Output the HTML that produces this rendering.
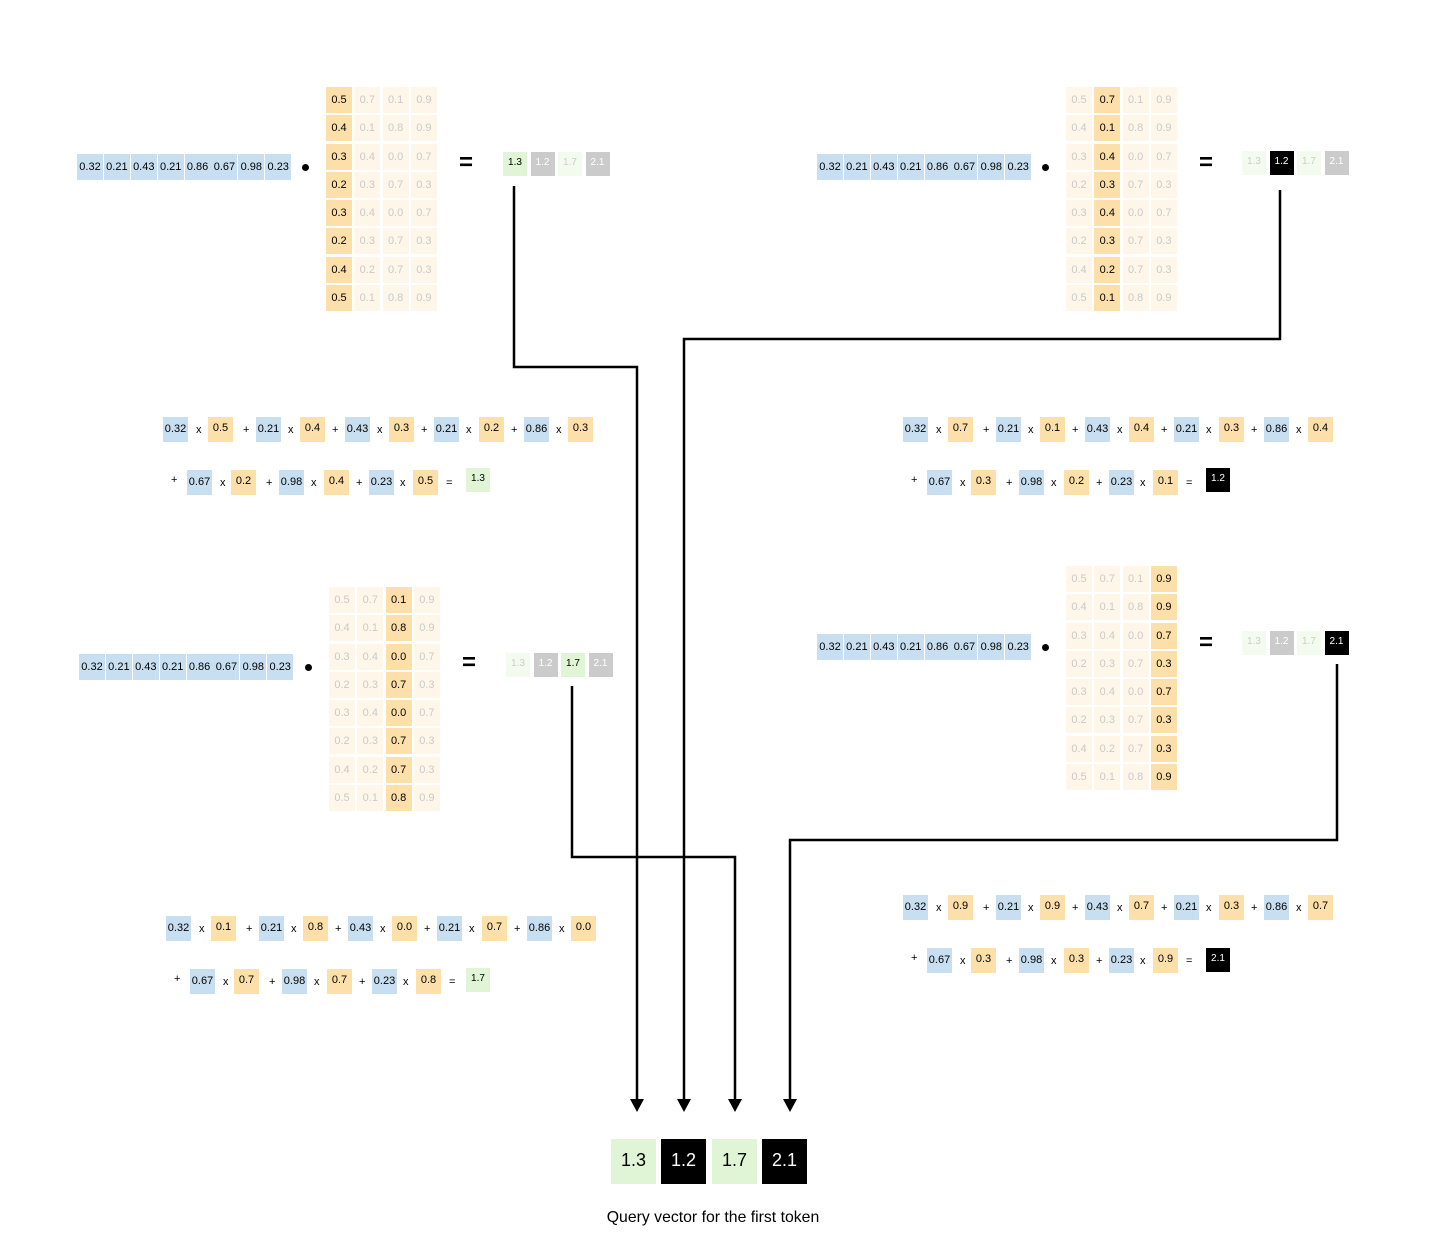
<!DOCTYPE html>
<html><head><meta charset="utf-8"><style>
body{margin:0;width:1456px;height:1253px;background:#fff;position:relative;overflow:hidden;font-family:"Liberation Sans",Arial,sans-serif;color:#000}
.a{position:absolute}
.v{position:absolute;display:grid;grid-template-columns:repeat(8,26px);column-gap:0.9px}
.v div{height:26px;line-height:26px;background:#c7dff0;text-align:center;font-size:11px}
.m{position:absolute;display:grid;grid-template-columns:repeat(4,26px);gap:2.3px}
.m div{height:26px;line-height:26px;background:#fef7e9;text-align:center;font-size:11px;color:#c9c9c9}
.m div.h{background:#fde0a9;color:#000}
.r{position:absolute;display:grid;grid-template-columns:repeat(4,24px);gap:3.5px}
.r div{height:24px;line-height:22px;text-align:center;font-size:10px}
.g{background:#dff5d5;color:#000}.fg{background:#f3fbef;color:#ccc}.gr{background:#cbcbcb;color:#fff}.bk{background:#000;color:#fff}
.dot{position:absolute;width:7px;height:7px;border-radius:50%;background:#000}
.eq{position:absolute;font-size:24px;font-weight:bold;line-height:24px}
.e{position:absolute;width:470px;height:90px}
.e div{position:absolute;font-size:11px}
.e .b,.e .o,.e .res{width:25px;height:25px;line-height:24px;text-align:center}
.e .b{background:#c7dff0}.e .o{background:#fde0a9;line-height:22px}
.e .s{top:0;line-height:27px}
.e .res{width:24px;height:24px;line-height:21px;font-size:10px}
</style></head><body>

<!-- Block A -->
<div class="v" style="left:77px;top:154px"><div>0.32</div><div>0.21</div><div>0.43</div><div>0.21</div><div>0.86</div><div>0.67</div><div>0.98</div><div>0.23</div></div>
<div class="dot" style="left:302px;top:164px"></div>
<div class="m" style="left:326px;top:87px">
<div class="h">0.5</div><div>0.7</div><div>0.1</div><div>0.9</div>
<div class="h">0.4</div><div>0.1</div><div>0.8</div><div>0.9</div>
<div class="h">0.3</div><div>0.4</div><div>0.0</div><div>0.7</div>
<div class="h">0.2</div><div>0.3</div><div>0.7</div><div>0.3</div>
<div class="h">0.3</div><div>0.4</div><div>0.0</div><div>0.7</div>
<div class="h">0.2</div><div>0.3</div><div>0.7</div><div>0.3</div>
<div class="h">0.4</div><div>0.2</div><div>0.7</div><div>0.3</div>
<div class="h">0.5</div><div>0.1</div><div>0.8</div><div>0.9</div></div>
<div class="eq" style="left:459px;top:151px">=</div>
<div class="r" style="left:503px;top:152px"><div class="g">1.3</div><div class="gr">1.2</div><div class="fg">1.7</div><div class="gr">2.1</div></div>

<!-- Block B -->
<div class="v" style="left:817px;top:154px"><div>0.32</div><div>0.21</div><div>0.43</div><div>0.21</div><div>0.86</div><div>0.67</div><div>0.98</div><div>0.23</div></div>
<div class="dot" style="left:1042px;top:164px"></div>
<div class="m" style="left:1066px;top:87px">
<div>0.5</div><div class="h">0.7</div><div>0.1</div><div>0.9</div>
<div>0.4</div><div class="h">0.1</div><div>0.8</div><div>0.9</div>
<div>0.3</div><div class="h">0.4</div><div>0.0</div><div>0.7</div>
<div>0.2</div><div class="h">0.3</div><div>0.7</div><div>0.3</div>
<div>0.3</div><div class="h">0.4</div><div>0.0</div><div>0.7</div>
<div>0.2</div><div class="h">0.3</div><div>0.7</div><div>0.3</div>
<div>0.4</div><div class="h">0.2</div><div>0.7</div><div>0.3</div>
<div>0.5</div><div class="h">0.1</div><div>0.8</div><div>0.9</div></div>
<div class="eq" style="left:1199px;top:151px">=</div>
<div class="r" style="left:1242px;top:151px"><div class="fg">1.3</div><div class="bk">1.2</div><div class="fg">1.7</div><div class="gr">2.1</div></div>

<!-- Block C -->
<div class="v" style="left:79px;top:654px"><div>0.32</div><div>0.21</div><div>0.43</div><div>0.21</div><div>0.86</div><div>0.67</div><div>0.98</div><div>0.23</div></div>
<div class="dot" style="left:305px;top:664px"></div>
<div class="m" style="left:329px;top:587px">
<div>0.5</div><div>0.7</div><div class="h">0.1</div><div>0.9</div>
<div>0.4</div><div>0.1</div><div class="h">0.8</div><div>0.9</div>
<div>0.3</div><div>0.4</div><div class="h">0.0</div><div>0.7</div>
<div>0.2</div><div>0.3</div><div class="h">0.7</div><div>0.3</div>
<div>0.3</div><div>0.4</div><div class="h">0.0</div><div>0.7</div>
<div>0.2</div><div>0.3</div><div class="h">0.7</div><div>0.3</div>
<div>0.4</div><div>0.2</div><div class="h">0.7</div><div>0.3</div>
<div>0.5</div><div>0.1</div><div class="h">0.8</div><div>0.9</div></div>
<div class="eq" style="left:462px;top:651px">=</div>
<div class="r" style="left:506px;top:653px"><div class="fg">1.3</div><div class="gr">1.2</div><div class="g">1.7</div><div class="gr">2.1</div></div>

<!-- Block D -->
<div class="v" style="left:817px;top:634px"><div>0.32</div><div>0.21</div><div>0.43</div><div>0.21</div><div>0.86</div><div>0.67</div><div>0.98</div><div>0.23</div></div>
<div class="dot" style="left:1042px;top:644px"></div>
<div class="m" style="left:1066px;top:566px">
<div>0.5</div><div>0.7</div><div>0.1</div><div class="h">0.9</div>
<div>0.4</div><div>0.1</div><div>0.8</div><div class="h">0.9</div>
<div>0.3</div><div>0.4</div><div>0.0</div><div class="h">0.7</div>
<div>0.2</div><div>0.3</div><div>0.7</div><div class="h">0.3</div>
<div>0.3</div><div>0.4</div><div>0.0</div><div class="h">0.7</div>
<div>0.2</div><div>0.3</div><div>0.7</div><div class="h">0.3</div>
<div>0.4</div><div>0.2</div><div>0.7</div><div class="h">0.3</div>
<div>0.5</div><div>0.1</div><div>0.8</div><div class="h">0.9</div></div>
<div class="eq" style="left:1199px;top:631px">=</div>
<div class="r" style="left:1242px;top:631px"><div class="fg">1.3</div><div class="gr">1.2</div><div class="fg">1.7</div><div class="bk">2.1</div></div>

<!-- Equation A -->
<div class="e" style="left:163px;top:417px">
<div class="b" style="left:0">0.32</div><div class="s" style="left:33px">x</div><div class="o" style="left:45px">0.5</div>
<div class="s" style="left:80px">+</div><div class="b" style="left:93px">0.21</div><div class="s" style="left:125px">x</div><div class="o" style="left:137px">0.4</div>
<div class="s" style="left:169px">+</div><div class="b" style="left:182px">0.43</div><div class="s" style="left:214px">x</div><div class="o" style="left:226px">0.3</div>
<div class="s" style="left:258px">+</div><div class="b" style="left:271px">0.21</div><div class="s" style="left:303px">x</div><div class="o" style="left:316px">0.2</div>
<div class="s" style="left:348px">+</div><div class="b" style="left:361px">0.86</div><div class="s" style="left:393px">x</div><div class="o" style="left:405px">0.3</div>
<div class="s" style="left:8px;top:50px">+</div><div class="b" style="left:24px;top:53px">0.67</div><div class="s" style="left:57px;top:53px">x</div><div class="o" style="left:68px;top:53px">0.2</div>
<div class="s" style="left:103px;top:53px">+</div><div class="b" style="left:116px;top:53px">0.98</div><div class="s" style="left:148px;top:53px">x</div><div class="o" style="left:161px;top:53px">0.4</div>
<div class="s" style="left:193px;top:53px">+</div><div class="b" style="left:206px;top:53px">0.23</div><div class="s" style="left:237px;top:53px">x</div><div class="o" style="left:250px;top:53px">0.5</div>
<div class="s" style="left:283px;top:53px">=</div><div class="res g" style="left:303px;top:51px">1.3</div>
</div>

<!-- Equation B -->
<div class="e" style="left:903px;top:417px">
<div class="b" style="left:0">0.32</div><div class="s" style="left:33px">x</div><div class="o" style="left:45px">0.7</div>
<div class="s" style="left:80px">+</div><div class="b" style="left:93px">0.21</div><div class="s" style="left:125px">x</div><div class="o" style="left:137px">0.1</div>
<div class="s" style="left:169px">+</div><div class="b" style="left:182px">0.43</div><div class="s" style="left:214px">x</div><div class="o" style="left:226px">0.4</div>
<div class="s" style="left:258px">+</div><div class="b" style="left:271px">0.21</div><div class="s" style="left:303px">x</div><div class="o" style="left:316px">0.3</div>
<div class="s" style="left:348px">+</div><div class="b" style="left:361px">0.86</div><div class="s" style="left:393px">x</div><div class="o" style="left:405px">0.4</div>
<div class="s" style="left:8px;top:50px">+</div><div class="b" style="left:24px;top:53px">0.67</div><div class="s" style="left:57px;top:53px">x</div><div class="o" style="left:68px;top:53px">0.3</div>
<div class="s" style="left:103px;top:53px">+</div><div class="b" style="left:116px;top:53px">0.98</div><div class="s" style="left:148px;top:53px">x</div><div class="o" style="left:161px;top:53px">0.2</div>
<div class="s" style="left:193px;top:53px">+</div><div class="b" style="left:206px;top:53px">0.23</div><div class="s" style="left:237px;top:53px">x</div><div class="o" style="left:250px;top:53px">0.1</div>
<div class="s" style="left:283px;top:53px">=</div><div class="res bk" style="left:303px;top:51px">1.2</div>
</div>

<!-- Equation C -->
<div class="e" style="left:166px;top:916px">
<div class="b" style="left:0">0.32</div><div class="s" style="left:33px">x</div><div class="o" style="left:45px">0.1</div>
<div class="s" style="left:80px">+</div><div class="b" style="left:93px">0.21</div><div class="s" style="left:125px">x</div><div class="o" style="left:137px">0.8</div>
<div class="s" style="left:169px">+</div><div class="b" style="left:182px">0.43</div><div class="s" style="left:214px">x</div><div class="o" style="left:226px">0.0</div>
<div class="s" style="left:258px">+</div><div class="b" style="left:271px">0.21</div><div class="s" style="left:303px">x</div><div class="o" style="left:316px">0.7</div>
<div class="s" style="left:348px">+</div><div class="b" style="left:361px">0.86</div><div class="s" style="left:393px">x</div><div class="o" style="left:405px">0.0</div>
<div class="s" style="left:8px;top:50px">+</div><div class="b" style="left:24px;top:53px">0.67</div><div class="s" style="left:57px;top:53px">x</div><div class="o" style="left:68px;top:53px">0.7</div>
<div class="s" style="left:103px;top:53px">+</div><div class="b" style="left:116px;top:53px">0.98</div><div class="s" style="left:148px;top:53px">x</div><div class="o" style="left:161px;top:53px">0.7</div>
<div class="s" style="left:193px;top:53px">+</div><div class="b" style="left:206px;top:53px">0.23</div><div class="s" style="left:237px;top:53px">x</div><div class="o" style="left:250px;top:53px">0.8</div>
<div class="s" style="left:283px;top:53px">=</div><div class="res g" style="left:300px;top:52px">1.7</div>
</div>

<!-- Equation D -->
<div class="e" style="left:903px;top:895px">
<div class="b" style="left:0">0.32</div><div class="s" style="left:33px">x</div><div class="o" style="left:45px">0.9</div>
<div class="s" style="left:80px">+</div><div class="b" style="left:93px">0.21</div><div class="s" style="left:125px">x</div><div class="o" style="left:137px">0.9</div>
<div class="s" style="left:169px">+</div><div class="b" style="left:182px">0.43</div><div class="s" style="left:214px">x</div><div class="o" style="left:226px">0.7</div>
<div class="s" style="left:258px">+</div><div class="b" style="left:271px">0.21</div><div class="s" style="left:303px">x</div><div class="o" style="left:316px">0.3</div>
<div class="s" style="left:348px">+</div><div class="b" style="left:361px">0.86</div><div class="s" style="left:393px">x</div><div class="o" style="left:405px">0.7</div>
<div class="s" style="left:8px;top:50px">+</div><div class="b" style="left:24px;top:53px">0.67</div><div class="s" style="left:57px;top:53px">x</div><div class="o" style="left:68px;top:53px">0.3</div>
<div class="s" style="left:103px;top:53px">+</div><div class="b" style="left:116px;top:53px">0.98</div><div class="s" style="left:148px;top:53px">x</div><div class="o" style="left:161px;top:53px">0.3</div>
<div class="s" style="left:193px;top:53px">+</div><div class="b" style="left:206px;top:53px">0.23</div><div class="s" style="left:237px;top:53px">x</div><div class="o" style="left:250px;top:53px">0.9</div>
<div class="s" style="left:283px;top:53px">=</div><div class="res bk" style="left:303px;top:53px">2.1</div>
</div>

<!-- connectors -->
<svg class="a" style="left:0;top:0" width="1456" height="1253">
<g fill="none" stroke="#000" stroke-width="2.5">
<polyline points="514,186 514,367 637,367 637,1100"/>
<polyline points="1280,190 1280,339 684,339 684,1100"/>
<polyline points="572,686 572,857 735,857 735,1100"/>
<polyline points="1337,664 1337,840 790,840 790,1100"/>
</g>
<g fill="#000">
<polygon points="630,1099 644,1099 637,1112"/>
<polygon points="677,1099 691,1099 684,1112"/>
<polygon points="728,1099 742,1099 735,1112"/>
<polygon points="783,1099 797,1099 790,1112"/>
</g>
</svg>

<!-- final vector -->
<div class="a" style="left:611px;top:1139px;width:45px;height:45px;background:#dff5d5;font-size:18px;line-height:43px;text-align:center">1.3</div>
<div class="a" style="left:661px;top:1139px;width:45px;height:45px;background:#000;color:#fff;font-size:18px;line-height:43px;text-align:center">1.2</div>
<div class="a" style="left:712px;top:1139px;width:45px;height:45px;background:#dff5d5;font-size:18px;line-height:43px;text-align:center">1.7</div>
<div class="a" style="left:762px;top:1139px;width:45px;height:45px;background:#000;color:#fff;font-size:18px;line-height:43px;text-align:center">2.1</div>
<div class="a" style="left:560px;top:1209px;width:306px;text-align:center;font-size:15.8px">Query vector for the first token</div>
</body></html>
